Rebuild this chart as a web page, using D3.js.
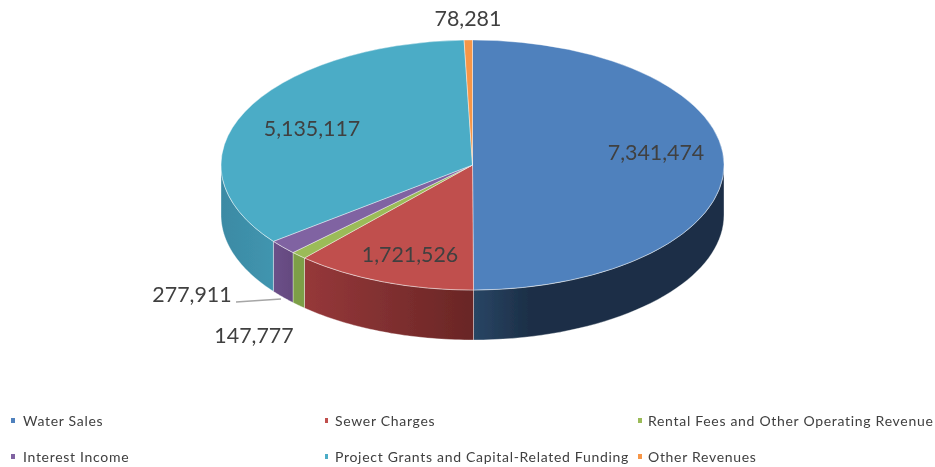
<!DOCTYPE html>
<html>
<head>
<meta charset="utf-8">
<script src="https://cdn.jsdelivr.net/npm/d3@7/dist/d3.min.js"></script>
<style>
  html, body { margin: 0; padding: 0; background: #fff; }
  svg { display: block; }
</style>
</head>
<body>
<div id="chart"></div>
<script>
// 3D pie, faked with a squashed d3.arc plus area walls.

const categories = ["Water Sales", "Sewer Charges", "Rental Fees and Other Operating Revenue",
                    "Interest Income", "Project Grants and Capital-Related Funding", "Other Revenues"];
const values = [7341474, 1721526, 147777, 277911, 5135117, 78281];
const topColors = ["#4f81bd", "#c0504d", "#9bbb59", "#8064a2", "#4bacc6", "#f79646"];
// wall shade at the left and right end of each slice's side
const wallLeft  = ["#294665", "#96383a", "#7d9f47", "#6c5089", "#3b8aa4", "#c9752f"];
const wallRight = ["#1c2f47", "#692625", "#7d9f47", "#64497f", "#4195af", "#c9752f"];

// 1) Dimensions
const width = 935, height = 467;
const cx = 472.5, cy = 165, rx = 251.5, ry = 125, depth = 50;

const svg = d3.select("#chart").append("svg")
  .attr("width", width)
  .attr("height", height);

const defs = svg.append("defs");
defs.append("filter").attr("id", "soft")
  .attr("x", "-5%").attr("y", "-5%").attr("width", "110%").attr("height", "110%")
  .append("feGaussianBlur").attr("stdDeviation", 0.5);

const pie = d3.pie().sort(null).value(d => d);
const slices = pie(values);
const fmt = d3.format(",");

const ex = a => cx + rx * Math.sin(a);
const ey = a => cy - ry * Math.cos(a);

const chart = svg.append("g").attr("filter", "url(#soft)");

// 2) Side walls, only the front half of the ellipse shows
const wall = d3.area()
  .x(a => ex(a))
  .y0(a => ey(a))
  .y1(a => ey(a) + depth);

const wallG = chart.append("g");
slices.forEach((s, i) => {
  const a0 = Math.max(s.startAngle, Math.PI / 2);
  const a1 = Math.min(s.endAngle, Math.PI * 1.5);
  if (a1 <= a0) return;
  const angles = d3.range(0, 41).map(k => a0 + (a1 - a0) * k / 40);

  const grad = defs.append("linearGradient")
    .attr("id", `wall${i}`)
    .attr("gradientUnits", "userSpaceOnUse")
    .attr("x1", Math.min(ex(a0), ex(a1))).attr("x2", Math.max(ex(a0), ex(a1)))
    .attr("y1", 0).attr("y2", 0);
  grad.append("stop").attr("offset", 0).attr("stop-color", wallLeft[i]);
  // the blue wall darkens quickly, then stays flat
  if (i === 0) grad.append("stop").attr("offset", 0.22).attr("stop-color", wallRight[i]);
  grad.append("stop").attr("offset", 1).attr("stop-color", wallRight[i]);

  wallG.append("path")
    .attr("d", wall(angles))
    .attr("fill", `url(#wall${i})`)
    .attr("stroke", "#fff")
    .attr("stroke-opacity", 0.45)
    .attr("stroke-width", 0.8);
});

// 3) Top face
const arc = d3.arc().innerRadius(0).outerRadius(rx);
chart.append("g")
  .attr("transform", `translate(${cx},${cy}) scale(1,${ry / rx})`)
  .selectAll("path")
  .data(slices)
  .enter().append("path")
    .attr("d", arc)
    .attr("fill", (d, i) => topColors[i])
    .attr("stroke", "#fff")
    .attr("stroke-opacity", 0.6)
    .attr("stroke-width", 0.9);

// 4) Leader line for the interest slice
chart.append("line")
  .attr("x1", 236).attr("y1", 302)
  .attr("x2", 281).attr("y2", 299)
  .attr("stroke", "#a6a6a6")
  .attr("stroke-width", 1.5);

// 5) Value labels
const labelPos = [[656, 153], [410, 255], [254, 336], [192, 295], [312, 129], [468, 19]];
chart.append("g")
  .selectAll("text")
  .data(values)
  .enter().append("text")
    .attr("x", (d, i) => labelPos[i][0])
    .attr("y", (d, i) => labelPos[i][1])
    .attr("dy", "0.35em")
    .attr("text-anchor", "middle")
    .attr("font-family", "Lato, sans-serif")
    .attr("font-size", 21.4)
    .attr("fill", "#404040")
    .text(d => fmt(d));

// 6) Legend, two rows of three
const legendX = [11, 325, 638];
const legendY = [421, 457];
const legend = chart.append("g")
  .selectAll("g")
  .data(categories)
  .enter().append("g")
    .attr("transform", (d, i) => `translate(${legendX[i % 3]},${legendY[Math.floor(i / 3)]})`);

legend.append("rect")
  .attr("x", 0).attr("y", -3)
  .attr("width", (d, i) => i === 1 || i === 4 ? 3 : 4)
  .attr("height", 5)
  .attr("fill", (d, i) => topColors[i]);

legend.append("text")
  .attr("x", (d, i) => i % 3 === 0 ? 12 : 10)
  .attr("y", 0)
  .attr("dy", "0.35em")
  .attr("font-family", "Lato, sans-serif")
  .attr("font-size", 14)
  .attr("letter-spacing", 0.7)
  .attr("fill", "#404040")
  .text(d => d);
</script>
</body>
</html>
